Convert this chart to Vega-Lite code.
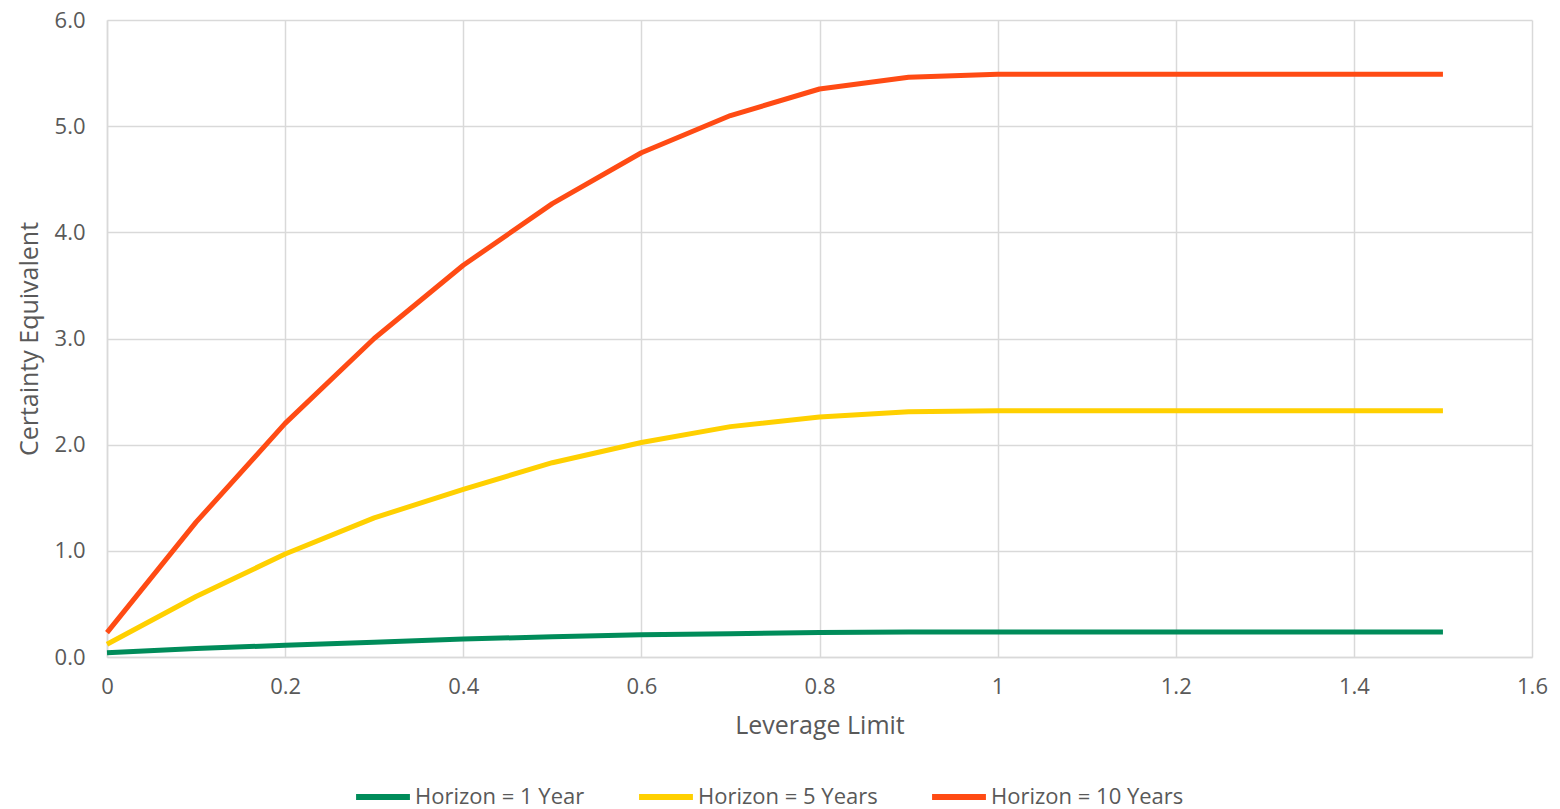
{
  "$schema": "https://vega.github.io/schema/vega-lite/v6.json",
  "autosize": "none",
  "width": 1425,
  "height": 637,
  "padding": {"left": 107, "top": 20, "right": 28, "bottom": 152},
  "background": "white",
  "config": {
    "font": "Open Sans",
    "view": {"stroke": null},
    "axis": {
      "labelFont": "Open Sans",
      "titleFont": "Open Sans",
      "labelFontSize": 22,
      "titleFontSize": 25,
      "labelColor": "#595959",
      "titleColor": "#595959",
      "titleFontWeight": "normal",
      "gridColor": "#d9d9d9",
      "gridWidth": 1.5,
      "domainColor": "#d9d9d9",
      "domainWidth": 1.5,
      "ticks": false
    },
    "legend": {
      "labelFont": "Open Sans",
      "labelFontSize": 22,
      "labelColor": "#595959",
      "labelLimit": 400
    }
  },
  "data": {
    "values": [
      {"leverage": 0.0, "ce": 0.04, "horizon": "Horizon = 1 Year"},
      {"leverage": 0.1, "ce": 0.08, "horizon": "Horizon = 1 Year"},
      {"leverage": 0.2, "ce": 0.11, "horizon": "Horizon = 1 Year"},
      {"leverage": 0.3, "ce": 0.14, "horizon": "Horizon = 1 Year"},
      {"leverage": 0.4, "ce": 0.17, "horizon": "Horizon = 1 Year"},
      {"leverage": 0.5, "ce": 0.19, "horizon": "Horizon = 1 Year"},
      {"leverage": 0.6, "ce": 0.21, "horizon": "Horizon = 1 Year"},
      {"leverage": 0.7, "ce": 0.22, "horizon": "Horizon = 1 Year"},
      {"leverage": 0.8, "ce": 0.23, "horizon": "Horizon = 1 Year"},
      {"leverage": 0.9, "ce": 0.235, "horizon": "Horizon = 1 Year"},
      {"leverage": 1.0, "ce": 0.235, "horizon": "Horizon = 1 Year"},
      {"leverage": 1.5, "ce": 0.235, "horizon": "Horizon = 1 Year"},
      {"leverage": 0.0, "ce": 0.12, "horizon": "Horizon = 5 Years"},
      {"leverage": 0.1, "ce": 0.57, "horizon": "Horizon = 5 Years"},
      {"leverage": 0.2, "ce": 0.97, "horizon": "Horizon = 5 Years"},
      {"leverage": 0.3, "ce": 1.31, "horizon": "Horizon = 5 Years"},
      {"leverage": 0.4, "ce": 1.58, "horizon": "Horizon = 5 Years"},
      {"leverage": 0.5, "ce": 1.83, "horizon": "Horizon = 5 Years"},
      {"leverage": 0.6, "ce": 2.02, "horizon": "Horizon = 5 Years"},
      {"leverage": 0.7, "ce": 2.17, "horizon": "Horizon = 5 Years"},
      {"leverage": 0.8, "ce": 2.26, "horizon": "Horizon = 5 Years"},
      {"leverage": 0.9, "ce": 2.31, "horizon": "Horizon = 5 Years"},
      {"leverage": 1.0, "ce": 2.32, "horizon": "Horizon = 5 Years"},
      {"leverage": 1.5, "ce": 2.32, "horizon": "Horizon = 5 Years"},
      {"leverage": 0.0, "ce": 0.23, "horizon": "Horizon = 10 Years"},
      {"leverage": 0.1, "ce": 1.27, "horizon": "Horizon = 10 Years"},
      {"leverage": 0.2, "ce": 2.2, "horizon": "Horizon = 10 Years"},
      {"leverage": 0.3, "ce": 3.0, "horizon": "Horizon = 10 Years"},
      {"leverage": 0.4, "ce": 3.69, "horizon": "Horizon = 10 Years"},
      {"leverage": 0.5, "ce": 4.27, "horizon": "Horizon = 10 Years"},
      {"leverage": 0.6, "ce": 4.75, "horizon": "Horizon = 10 Years"},
      {"leverage": 0.7, "ce": 5.1, "horizon": "Horizon = 10 Years"},
      {"leverage": 0.8, "ce": 5.35, "horizon": "Horizon = 10 Years"},
      {"leverage": 0.9, "ce": 5.46, "horizon": "Horizon = 10 Years"},
      {"leverage": 1.0, "ce": 5.49, "horizon": "Horizon = 10 Years"},
      {"leverage": 1.5, "ce": 5.49, "horizon": "Horizon = 10 Years"}
    ]
  },
  "mark": {"type": "line", "strokeWidth": 5, "strokeCap": "butt", "strokeJoin": "round"},
  "encoding": {
    "x": {
      "field": "leverage",
      "type": "quantitative",
      "title": "Leverage Limit",
      "scale": {"domain": [0, 1.6], "nice": false},
      "axis": {
        "values": [0, 0.2, 0.4, 0.6, 0.8, 1, 1.2, 1.4, 1.6],
        "format": "~g",
        "labelPadding": 19,
        "titlePadding": 16,
        "labelFlush": false
      }
    },
    "y": {
      "field": "ce",
      "type": "quantitative",
      "title": "Certainty Equivalent",
      "scale": {"domain": [0, 6], "nice": false},
      "axis": {
        "values": [0, 1, 2, 3, 4, 5, 6],
        "format": ".1f",
        "labelPadding": 22,
        "titlePadding": 12,
        "labelFlush": false
      }
    },
    "color": {
      "field": "horizon",
      "type": "nominal",
      "sort": ["Horizon = 1 Year", "Horizon = 5 Years", "Horizon = 10 Years"],
      "scale": {
        "domain": ["Horizon = 1 Year", "Horizon = 5 Years", "Horizon = 10 Years"],
        "range": ["#008c5a", "#ffd000", "#ff4b14"]
      },
      "legend": {
        "title": null,
        "orient": "none",
        "direction": "horizontal",
        "legendX": 246,
        "legendY": 747,
        "symbolType": "stroke",
        "symbolStrokeWidth": 6,
        "symbolSize": 2900,
        "labelOffset": 2,
        "columnPadding": 42
      }
    }
  }
}
